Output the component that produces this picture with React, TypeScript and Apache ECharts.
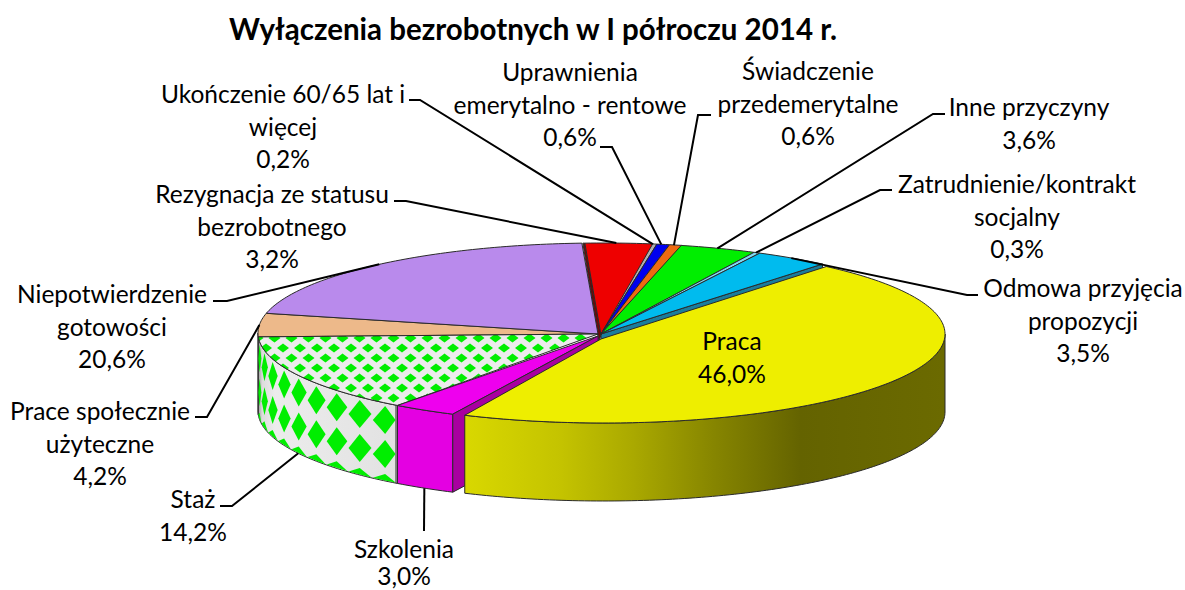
import React, { useEffect, useRef } from "react";
import * as echarts from "echarts";

const chartTitle = "Wyłączenia bezrobotnych w I półroczu 2014 r.";
const categories = [
  "Praca",
  "Szkolenia",
  "Staż",
  "Prace społecznie\nużyteczne",
  "Niepotwierdzenie\ngotowości",
  "Rezygnacja ze statusu\nbezrobotnego",
  "Ukończenie 60/65 lat i\nwięcej",
  "Uprawnienia\nemerytalno - rentowe",
  "Świadczenie\nprzedemerytalne",
  "Inne przyczyny",
  "Zatrudnienie/kontrakt\nsocjalny",
  "Odmowa przyjęcia\npropozycji",
];
const values = [46.0, 3.0, 14.2, 4.2, 20.6, 3.2, 0.2, 0.6, 0.6, 3.6, 0.3, 3.5];
const topColors = ["#eeee00", "#ee00ee", "#ececec", "#edb98a", "#b98aec", "#ee0000", "#b0b0b0", "#0000ee", "#ee6a10", "#00ee00", "#7fd8f0", "#00bbee"];

// layout only (no data): label centres and leader elbows
const labelCentres: number[][] = [
  [732, 357], [404, 562], [193, 515], [100, 443], [112, 326], [272, 226],
  [283, 126], [570, 104], [808, 103], [1029, 123], [1017, 216], [1083, 320],
];
const leaderElbows: (number[][] | null)[] = [
  null,
  [[424, 531]],
  [[220, 506], [232, 506]],
  [[195, 417], [207, 417]],
  [[213, 301], [227, 301]],
  [[394, 201], [406, 201]],
  [[409, 100], [420, 100]],
  [[600, 147], [612, 147]],
  [[711, 115], [698, 115]],
  [[945, 114], [933, 114]],
  [[892, 190], [880, 190]],
  [[978, 295], [967, 295]],
];

const FONT = "Lato";
const LABEL_SIZE = 24.5;
const LINE_H = 32.5;
const START = -50;
const DEPTH = 78;
const base = { cx: 601, cy: 333, rx: 343, ry: 90, ax: 598, ay: 334 };
const geometry: Record<number, any> = {
  0: { cx: 604, cy: 334, rx: 341, ry: 89, ax: 601, ay: 339, a0: 0.7, a1: -1.5 },
  1: { ax: 598, ay: 336 },
  5: { cx: 604, ax: 601, ay: 335 },
  6: { cx: 603, ax: 601 },
  7: { cx: 603, ax: 601 },
  8: { cx: 603, ax: 601 },
  9: { cx: 602, ax: 601 },
  10: { cx: 602, ax: 601 },
  11: { cx: 602, ax: 601 },
};

const total = values.reduce((a, b) => a + b, 0);
const starts: number[] = [];
values.reduce((acc, v, i) => {
  starts[i] = acc;
  return acc + (v / total) * 360;
}, START);

const rad = (d: number) => (d * Math.PI) / 180;
const geo = (i: number) => ({ ...base, ...(geometry[i] || {}) });
const rimPt = (g: any, t: number, dy = 0) => [g.cx + g.rx * Math.cos(rad(t)), g.cy + g.ry * Math.sin(rad(t)) + dy];
const arc = (g: any, t0: number, t1: number, dy = 0) => {
  const n = Math.max(2, Math.ceil(Math.abs(t1 - t0)));
  const out: number[][] = [];
  for (let k = 0; k <= n; k++) out.push(rimPt(g, t0 + ((t1 - t0) * k) / n, dy));
  return out;
};

function makeTile() {
  const c = document.createElement("canvas");
  c.width = 17;
  c.height = 20;
  const x = c.getContext("2d")!;
  x.fillStyle = "#ececec";
  x.fillRect(0, 0, 17, 20);
  x.fillStyle = "#00ee00";
  const d = (px: number, py: number) => {
    x.beginPath();
    x.moveTo(px - 6, py);
    x.lineTo(px, py - 4.5);
    x.lineTo(px + 6, py);
    x.lineTo(px, py + 4.5);
    x.closePath();
    x.fill();
  };
  [[11, 8], [2.5, 18], [2.5, -2], [19.5, 18], [19.5, -2]].forEach(([a, b]) => d(a, b));
  return c;
}

const yellowWall = {
  type: "linear", global: true, x: 465, y: 0, x2: 945, y2: 0,
  colorStops: [
    { offset: 0, color: "#d9d800" }, { offset: 0.2, color: "#c4c300" },
    { offset: 0.35, color: "#aaa900" }, { offset: 0.52, color: "#868500" },
    { offset: 0.7, color: "#646300" }, { offset: 1, color: "#6b6a00" },
  ],
};
const stazWall = {
  type: "linear", global: true, x: 258, y: 0, x2: 398, y2: 0,
  colorStops: [
    { offset: 0, color: "#9a9a9a" }, { offset: 0.03, color: "#dcdcdc" }, { offset: 0.12, color: "#ececec" },
    { offset: 0.975, color: "#e2e2e2" }, { offset: 0.976, color: "#858585" }, { offset: 1, color: "#858585" },
  ],
};
const STROKE = "#2a2a2a";

export default function App() {
  const ref = useRef<HTMLDivElement>(null);
  useEffect(() => {
    const chart = echarts.init(ref.current!, undefined, { renderer: "svg" });
    const tile = makeTile();
    const pattern = { type: "pattern", image: tile, repeat: "repeat", imageWidth: 17, imageHeight: 20 };

    const renderItem = (_p: any, api: any) => {
      const i = api.value(0) as number;
      const val = api.value(1) as number;
      const g = geo(i);
      const sweep = (val / total) * 360;
      const t0 = starts[i] + (g.a0 || 0);
      const t1 = starts[i] + sweep + (g.a1 || 0);
      const mid = starts[i] + sweep / 2;
      const apex = [g.ax, g.ay];
      const kids: any[] = [];
      const poly = (points: number[][], fill: any, z2: number, stroke: any = STROKE, lineWidth = 1) =>
        kids.push({ type: "polygon", z2, shape: { points }, style: { fill, stroke, lineWidth, lineJoin: "round" } });

      const zTop = i === 0 ? 16 : i === 1 ? 12 : i === 2 ? 8 : 5;

      // front wall, the part of the slice facing the viewer
      const w0 = Math.max(t0, 0);
      const w1 = Math.min(t1, 180);
      if (w1 > w0) {
        const top = arc(g, w0, w1);
        const bottom = arc(g, w1, w0, DEPTH);
        const fill = i === 0 ? yellowWall : i === 2 ? stazWall : i === 1 ? "#e400e2" : topColors[i];
        poly([...top, ...bottom], fill, zTop - 1);
      }
      // pattern of the Staż wall, laid along the rim; diamonds stand upright
      if (i === 2) {
        for (let t = t0 + 2.6; t < t1 - 1; t += 5.7) {
          [17, 51, 85].forEach((d) => {
            const rimY = rimPt(g, t)[1];
            const pt = (tt: number, dep: number) => {
              const ta = Math.min(Math.max(tt, t0 + 0.4), t1);
              const xx = rimPt(g, ta)[0];
              const yTop = rimPt(g, ta)[1] + 0.5;
              const yBot = yTop + DEPTH - 1;
              return [xx, Math.min(Math.max(rimY + dep, yTop), yBot)];
            };
            const pts = [pt(t - 2.7, d), pt(t, d - 14), pt(t + 2.7, d), pt(t, d + 14)];
            kids.push({ type: "polygon", z2: zTop - 1, shape: { points: pts }, style: { fill: "#00ee00" } });
          });
        }
      }
      // inner walls showing where slices separate
      if (i === 1) {
        const c = rimPt(g, t0);
        poly([c, [c[0], c[1] + DEPTH], [apex[0] + 2, apex[1] + DEPTH], apex], "#a800a0", 13);
      }
      if (i === 11) {
        const c = rimPt(g, t1);
        poly([c, [c[0], c[1] + DEPTH], [apex[0], apex[1] + DEPTH], apex], "#1a7d9c", 4);
      }
      if (i === 5) {
        const c = rimPt(g, t0);
        poly([[c[0] - 2, c[1]], c, apex, [apex[0] - 2, apex[1] + 6]], "#6e0808", 4);
      }
      // top surface
      const topFill = i === 2 ? pattern : topColors[i];
      poly([apex, ...arc(g, t0, t1)], topFill, zTop);

      // leader line, anchored on the rim at the slice's middle angle
      const elbow = leaderElbows[i];
      if (elbow) {
        const inFront = mid > 0 && mid < 180 && i !== 3;
        const anchor = rimPt(i === 0 ? g : base, mid, inFront ? DEPTH : 0);
        kids.push({
          type: "polyline", z2: 20,
          shape: { points: [...elbow, anchor] },
          style: { stroke: "#000", lineWidth: 2, fill: "none" },
        });
      }
      // label: the lowest one sits on the page's edge, so its lines are kept tight
      const pct = val.toFixed(1).replace(".", ",") + "%";
      const textStyle = {
        align: "center", verticalAlign: "middle",
        fontFamily: FONT, fontSize: LABEL_SIZE, fill: "#000",
      };
      if (i === 1) {
        kids.push({ type: "text", z2: 30, style: { ...textStyle, text: categories[i], x: labelCentres[i][0], y: labelCentres[i][1] - 14, lineHeight: 20 } });
        kids.push({ type: "text", z2: 30, style: { ...textStyle, text: pct, x: labelCentres[i][0], y: labelCentres[i][1] + 13, lineHeight: 20 } });
      } else {
        kids.push({
          type: "text", z2: 30,
          style: { ...textStyle, text: `${categories[i]}\n${pct}`, x: labelCentres[i][0], y: labelCentres[i][1], lineHeight: LINE_H },
        });
      }
      return { type: "group", children: kids };
    };

    chart.setOption({
      animation: false,
      backgroundColor: "#ffffff",
      title: {
        text: chartTitle, left: 528, top: 8, textAlign: "center",
        textStyle: { fontFamily: FONT, fontSize: 29.5, fontWeight: 700, color: "#000" },
      },
      series: [{
        type: "custom",
        coordinateSystem: "none",
        renderItem,
        data: values.map((v, i) => [i, v]),
        silent: true,
      }],
    });
    return () => chart.dispose();
  }, []);
  return <div ref={ref} style={{ position: "absolute", left: 0, top: 0, width: 1185, height: 590 }} />;
}
